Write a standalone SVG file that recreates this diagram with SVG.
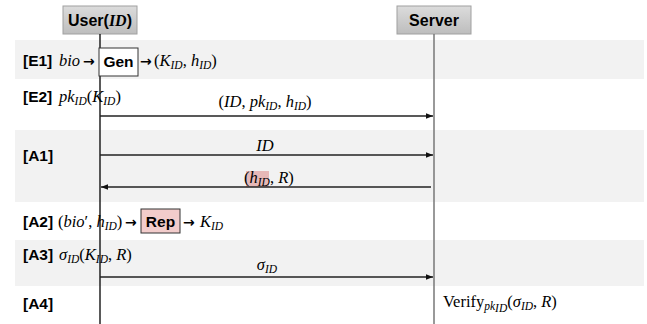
<svg xmlns="http://www.w3.org/2000/svg" width="647" height="324" viewBox="0 0 647 324">
<style>
.band{fill:#f2f2f2}
.lbl{font-family:"Liberation Sans",Arial,sans-serif;font-weight:bold;font-size:15.5px;fill:#000}
.m{font-family:"Liberation Serif","DejaVu Serif",serif;font-size:16.5px;fill:#000}
.ar{font-family:"DejaVu Sans",sans-serif;font-size:14px;font-weight:bold;fill:#000}
.i{font-style:italic}
.s{font-size:11.5px;font-style:italic}
.msg{stroke:#222;stroke-width:1.3;fill:none}
.hdr{fill:url(#g);stroke:#a0a0a0;stroke-width:1}
.hdrt{font-family:"Liberation Sans",Arial,sans-serif;font-weight:bold;font-size:16px;fill:#000}
</style>
<defs>
<linearGradient id="g" x1="0" y1="0" x2="0" y2="1"><stop offset="0" stop-color="#dcdcdc"/><stop offset="1" stop-color="#bdbdbd"/></linearGradient>
<marker id="ah" viewBox="0 0 10 10" refX="10" refY="5" markerWidth="7" markerHeight="7" markerUnits="userSpaceOnUse" orient="auto"><path d="M0,1 L10,5 L0,9 z" fill="#111"/></marker>
</defs>
<rect width="647" height="324" fill="#fff"/>
<g id="bands">
<rect class="band" x="15" y="40" width="629" height="39"/>
<rect class="band" x="15" y="130" width="629" height="72"/>
<rect class="band" x="15" y="240" width="629" height="46"/>
</g>
<g id="user">
<rect class="hdr" x="63" y="6" width="74" height="28"/>
<text class="hdrt" x="100" y="26" text-anchor="middle">User(<tspan font-family="Liberation Serif,serif" font-style="italic">ID</tspan>)</text>
<line x1="100" y1="34" x2="100" y2="324" stroke="#000" stroke-width="1.3"/>
</g>
<g id="server">
<rect class="hdr" x="397" y="6" width="74" height="28"/>
<text class="hdrt" x="434" y="26" text-anchor="middle">Server</text>
<line x1="434" y1="34" x2="434" y2="324" stroke="#777" stroke-width="1.5"/>
</g>
<g id="e1">
<text class="lbl" x="23" y="66">[E1]</text>
<text class="m i" x="59" y="66">bio</text>
<text class="ar" x="83" y="66">→</text>
<rect x="99" y="48" width="39" height="28" fill="#fff" stroke="#333" stroke-width="1"/>
<text class="lbl" x="118.5" y="67" text-anchor="middle">Gen</text>
<text class="ar" x="140" y="66">→</text>
<text class="m" x="154" y="66">(<tspan class="i">K</tspan><tspan class="s" dy="3">ID</tspan><tspan dy="-3">, </tspan><tspan class="i">h</tspan><tspan class="s" dy="3">ID</tspan><tspan dy="-3">)</tspan></text>
</g>
<g id="e2">
<text class="lbl" x="23" y="102">[E2]</text>
<text class="m" x="59" y="102"><tspan class="i">pk</tspan><tspan class="s" dy="3">ID</tspan><tspan dy="-3">(</tspan><tspan class="i">K</tspan><tspan class="s" dy="3">ID</tspan><tspan dy="-3">)</tspan></text>
</g>
<g id="a1"><text class="lbl" x="23" y="161">[A1]</text></g>
<g id="a2">
<text class="lbl" x="23" y="227">[A2]</text>
<text class="m" x="58" y="227">(<tspan class="i">bio</tspan>′, <tspan class="i">h</tspan><tspan class="s" dy="3">ID</tspan><tspan dy="-3">)</tspan></text>
<text class="ar" x="125" y="227">→</text>
<rect x="141" y="209" width="39" height="24" fill="#f2cccb" stroke="#333" stroke-width="1"/>
<text class="lbl" x="160.5" y="227" text-anchor="middle">Rep</text>
<text class="ar" x="183" y="227">→</text>
<text class="m" x="200" y="227"><tspan class="i">K</tspan><tspan class="s" dy="3">ID</tspan></text>
</g>
<g id="a3">
<text class="lbl" x="23" y="260">[A3]</text>
<text class="m" x="59" y="260"><tspan class="i">σ</tspan><tspan class="s" dy="3">ID</tspan><tspan dy="-3">(</tspan><tspan class="i">K</tspan><tspan class="s" dy="3">ID</tspan><tspan dy="-3">, </tspan><tspan class="i">R</tspan>)</text>
</g>
<g id="a4">
<text class="lbl" x="23" y="309">[A4]</text>
<text class="m" x="443" y="307">Verify<tspan class="s" dy="3">pk</tspan><tspan class="s" font-size="8" dy="2">ID</tspan><tspan dy="-5">(</tspan><tspan class="i">σ</tspan><tspan class="s" dy="3">ID</tspan><tspan dy="-3">, </tspan><tspan class="i">R</tspan>)</text>
</g>
<g id="connectors">
<line class="msg" x1="100" y1="116" x2="433" y2="116" marker-end="url(#ah)"/>
<text class="m" x="265" y="107" text-anchor="middle">(<tspan class="i">ID</tspan>, <tspan class="i">pk</tspan><tspan class="s" dy="3">ID</tspan><tspan dy="-3">, </tspan><tspan class="i">h</tspan><tspan class="s" dy="3">ID</tspan><tspan dy="-3">)</tspan></text>
<line class="msg" x1="100" y1="155" x2="433" y2="155" marker-end="url(#ah)"/>
<text class="m i" x="265" y="151" text-anchor="middle">ID</text>
<rect x="246" y="171" width="23" height="16" fill="#e6b8b7"/>
<line class="msg" x1="431" y1="187" x2="101" y2="187" marker-end="url(#ah)"/>
<text class="m" x="244" y="183">(<tspan class="i">h</tspan><tspan class="s" dy="3">ID</tspan><tspan dy="-3">, </tspan><tspan class="i">R</tspan>)</text>
<line class="msg" x1="100" y1="277" x2="433" y2="277" marker-end="url(#ah)"/>
<text class="m" x="267" y="270" text-anchor="middle"><tspan class="i">σ</tspan><tspan class="s" dy="3">ID</tspan></text>
</g>
</svg>
